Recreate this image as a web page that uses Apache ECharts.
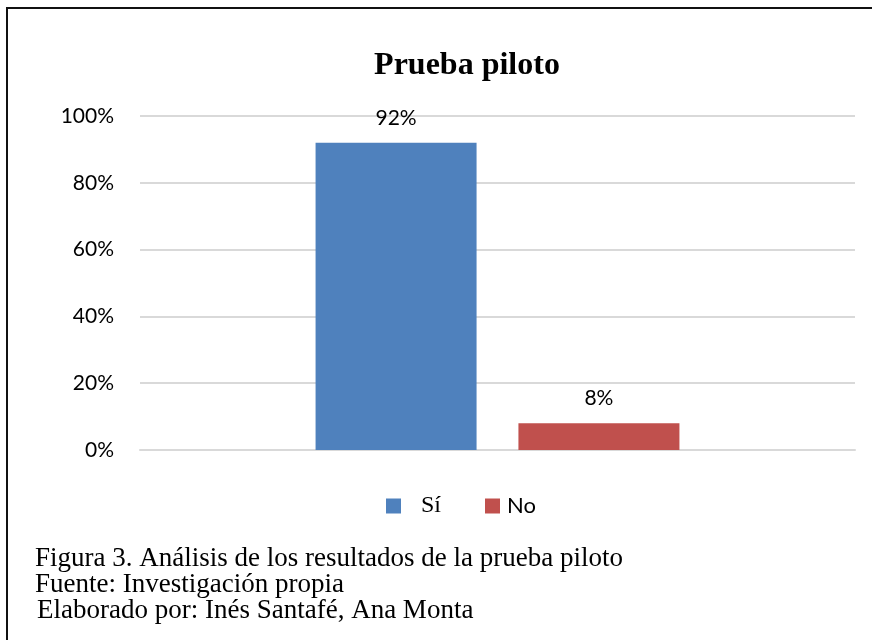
<!DOCTYPE html>
<html>
<head>
<meta charset="utf-8">
<script src="https://cdn.jsdelivr.net/npm/echarts@6/dist/echarts.min.js"></script>
<style>
  html, body { margin: 0; padding: 0; background: #fff; }
  #frame {
    position: absolute; left: 6px; top: 7px; width: 880px; height: 650px;
    border-top: 2px solid #111; border-left: 2px solid #111;
  }
  #pruebaChart { position: absolute; left: 0; top: 0; width: 872px; height: 640px; }
</style>
</head>
<body>
<div id="frame"></div>
<div id="pruebaChart"></div>
<script>
  // datos
  const categories = ['Prueba piloto']
  const seriesNames = ['Sí', 'No']
  const siValues = [0.92]
  const noValues = [0.08]
  const yTicks = [0, 0.2, 0.4, 0.6, 0.8, 1]
  const captionLines = [
    'Figura 3. Análisis de los resultados de la prueba piloto',
    'Fuente: Investigación propia',
    'Elaborado por: Inés Santafé, Ana Monta'
  ]

  const sans = 'Lato, "Open Sans", sans-serif'
  const serif = '"Liberation Serif", "Times New Roman", serif'

  const chart = echarts.init(document.getElementById('pruebaChart'))
  chart.setOption({
    animation: false,
    title: {
      text: 'Prueba piloto',
      left: 462,
      textAlign: 'center',
      top: 45,
      textStyle: { fontFamily: serif, fontWeight: 'bold', fontSize: 32, color: '#000' }
    },
    legend: {
      top: 489,
      left: 381,
      itemWidth: 15,
      itemHeight: 15,
      itemGap: 44,
      icon: 'rect',
      data: [
        { name: seriesNames[0], textStyle: { fontFamily: serif, fontSize: 24, padding: [8, 0, 0, 15] } },
        { name: seriesNames[1], textStyle: { fontFamily: sans, fontSize: 22, padding: [0, 0, 0, 2] } }
      ],
      textStyle: { color: '#000' }
    },
    grid: { left: 140, right: 17, top: 116, bottom: 190, containLabel: false },
    xAxis: {
      type: 'category',
      data: categories,
      axisLine: { lineStyle: { color: '#d9d9d9', width: 2 } },
      axisTick: { show: false },
      axisLabel: { show: false }
    },
    yAxis: {
      type: 'value',
      min: yTicks[0],
      max: yTicks[yTicks.length - 1],
      interval: 0.2,
      axisLine: { show: false },
      axisTick: { show: false },
      axisLabel: {
        margin: 26,
        fontFamily: sans,
        fontSize: 21,
        color: '#000',
        formatter: function (v) { return Math.round(v * 100) + '%' }
      },
      splitLine: { lineStyle: { color: '#d9d9d9', width: 2 } }
    },
    series: [{
      name: seriesNames[0],
      type: 'bar',
      barWidth: 161,
      barGap: '26%',
      itemStyle: { color: '#4f81bd' },
      label: {
        show: true,
        position: 'top',
        distance: 14,
        fontFamily: sans,
        fontSize: 21,
        color: '#000',
        formatter: function (p) { return Math.round(p.value * 100) + '%' }
      },
      data: siValues
    }, {
      name: seriesNames[1],
      type: 'bar',
      barWidth: 161,
      itemStyle: { color: '#c0504d' },
      label: {
        show: true,
        position: 'top',
        distance: 15,
        fontFamily: sans,
        fontSize: 21,
        color: '#000',
        formatter: function (p) { return Math.round(p.value * 100) + '%' }
      },
      data: noValues
    }],
    graphic: captionLines.map(function (line, i) {
      return {
        type: 'text',
        left: i === 2 ? 37 : 35,
        top: 545 + i * 26,
        style: { text: line, fontFamily: serif, fontSize: 27, fill: '#000' }
      }
    })
  })
</script>
</body>
</html>
